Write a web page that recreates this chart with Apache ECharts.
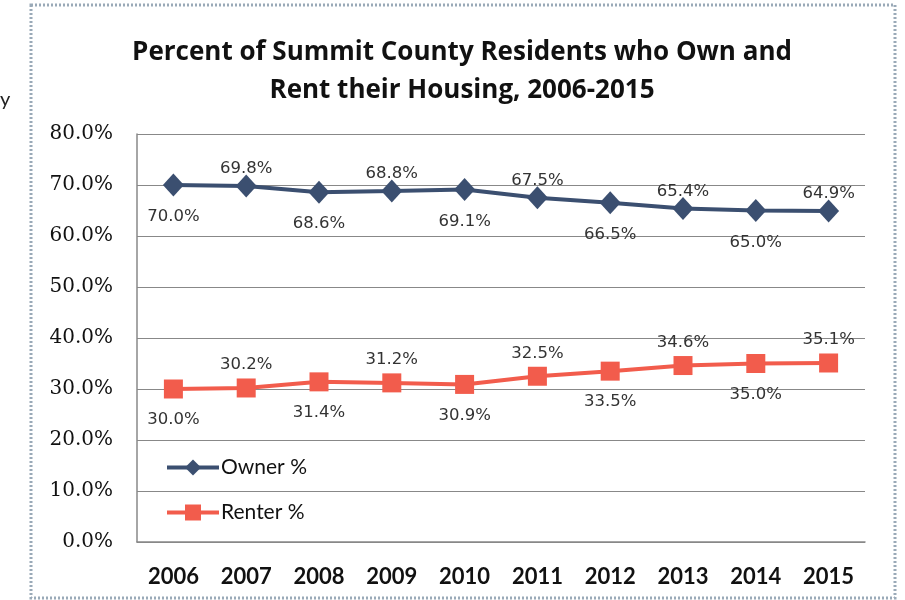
<!DOCTYPE html>
<html><head><meta charset="utf-8">
<script src="https://cdn.jsdelivr.net/npm/echarts@6/dist/echarts.min.js"></script>
<style>html,body{margin:0;padding:0;background:#fff}#c{width:905px;height:600px}</style>
</head><body><div id="c"></div>
<script>
const years = ['2006','2007','2008','2009','2010','2011','2012','2013','2014','2015'];
const ownerPct = [70.0, 69.8, 68.6, 68.8, 69.1, 67.5, 66.5, 65.4, 65.0, 64.9];
const renterPct = [30.0, 30.2, 31.4, 31.2, 30.9, 32.5, 33.5, 34.6, 35.0, 35.1];
const yTicks = [0, 10, 20, 30, 40, 50, 60, 70, 80];

const ownerColor = '#3B4F70';
const renterColor = '#F25C4C';
const labelFont = {fontFamily: 'DejaVu Sans', fontSize: 16.5, color: '#333'};

function mkData(arr, dBelow, dAbove) {
  return arr.map((v, i) => ({
    value: v,
    label: Object.assign({show: true, formatter: v.toFixed(1) + '%',
      position: i % 2 === 0 ? 'bottom' : 'top',
      distance: i % 2 === 0 ? dBelow : dAbove}, labelFont)
  }));
}

const chart = echarts.init(document.getElementById('c'), null, {renderer: 'canvas'});
chart.setOption({
  animation: false,
  backgroundColor: '#fff',
  title: {
    text: 'Percent of Summit County Residents who Own and\nRent their Housing, 2006-2015',
    left: 457, textAlign: 'center', top: 29,
    textStyle: {fontFamily: 'Open Sans', fontWeight: 'bold', fontSize: 26, lineHeight: 38, color: '#111'}
  },
  legend: {
    orient: 'vertical', left: 160, top: 452, itemGap: 24,
    itemWidth: 52, itemHeight: 20,
    lineStyle: {width: 4},
    textStyle: {fontFamily: 'Lato', fontSize: 21, color: '#111', padding: [0, 0, 0, -3]},
    data: ['Owner %', 'Renter %']
  },
  grid: {left: 137, right: 40, top: 134, bottom: 58},
  xAxis: {
    type: 'category', data: years, boundaryGap: true,
    axisLine: {lineStyle: {color: '#888', width: 1.5}},
    axisTick: {show: false},
    axisLabel: {fontFamily: 'Lato', fontWeight: 'bold', fontSize: 22, color: '#111', margin: 24}
  },
  yAxis: {
    type: 'value', min: yTicks[0], max: yTicks[yTicks.length - 1], interval: 10,
    axisLine: {show: true, lineStyle: {color: '#888', width: 1.5}},
    axisTick: {show: false},
    splitLine: {lineStyle: {color: '#888', width: 1.2}},
    axisLabel: {formatter: v => v.toFixed(1) + '%', fontFamily: 'DejaVu Serif', fontSize: 20, color: '#111', margin: 24}
  },
  graphic: [
    {type: 'rect', shape: {x: 31, y: 5, width: 864, height: 593},
     style: {fill: 'none', stroke: '#9AAAB8', lineWidth: 3, lineDash: [2, 2]}, silent: true},
    {type: 'text', left: 0, top: 90, style: {text: 'y', font: '20px Lato', fill: '#222'}}
  ],
  series: [
    {name: 'Owner %', type: 'line', data: mkData(ownerPct, 12, -3),
     symbol: 'diamond', symbolSize: [21, 23], color: ownerColor,
     lineStyle: {width: 4, color: ownerColor}, itemStyle: {color: ownerColor}},
    {name: 'Renter %', type: 'line', data: mkData(renterPct, 13, 5),
     symbol: 'rect', symbolSize: 19, color: renterColor,
     lineStyle: {width: 4, color: renterColor}, itemStyle: {color: renterColor}}
  ]
});
</script></body></html>
